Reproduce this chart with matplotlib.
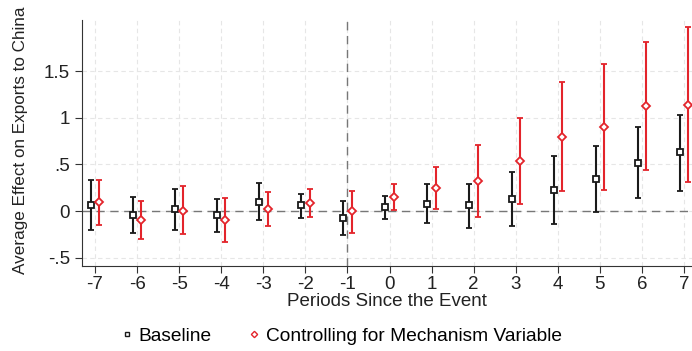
import matplotlib.pyplot as plt
from matplotlib.lines import Line2D
import numpy as np

plt.rcParams['font.family'] = ['Liberation Sans', 'DejaVu Sans']
plt.rcParams['axes.unicode_minus'] = False

# Event-study coefficients and 95% CIs
periods = [-7, -6, -5, -4, -3, -2, -1, 0, 1, 2, 3, 4, 5, 6, 7]

base_coef = [0.07, -0.04, 0.02, -0.04, 0.10, 0.06, -0.07, 0.04, 0.08, 0.06, 0.13, 0.23, 0.34, 0.52, 0.63]
base_lo = [-0.20, -0.23, -0.20, -0.22, -0.10, -0.075, -0.26, -0.09, -0.13, -0.18, -0.16, -0.14, -0.01, 0.14, 0.22]
base_hi = [0.33, 0.15, 0.24, 0.13, 0.30, 0.18, 0.11, 0.16, 0.29, 0.29, 0.42, 0.59, 0.70, 0.90, 1.03]

mech_coef = [0.10, -0.10, 0.00, -0.10, 0.02, 0.09, 0.00, 0.15, 0.25, 0.325, 0.54, 0.80, 0.90, 1.125, 1.14]
mech_lo = [-0.15, -0.30, -0.25, -0.33, -0.16, -0.06, -0.23, 0.01, 0.02, -0.06, 0.08, 0.21, 0.225, 0.44, 0.31]
mech_hi = [0.33, 0.11, 0.27, 0.135, 0.20, 0.24, 0.21, 0.29, 0.475, 0.71, 1.00, 1.39, 1.58, 1.81, 1.97]

ytick_vals = [-0.5, 0, 0.5, 1, 1.5]
ytick_labels = ['-.5', '0', '.5', '1', '1.5']

BLACK = '#1a1a1a'
RED = '#e3242b'

x = np.array(periods)
fig = plt.figure(figsize=(6.92, 3.51), dpi=100)
ax = fig.add_axes([0.1185, 0.242, 0.8815, 0.701])

def draw(xpos, coef, lo, hi, color, marker, ms):
    coef = np.array(coef)
    err = [coef - np.array(lo), np.array(hi) - coef]
    ax.errorbar(xpos, coef, yerr=err, fmt=marker, color=color, ecolor=color,
                elinewidth=1.5, capsize=2.5, capthick=1.5, ms=ms, mfc='white',
                mec=color, mew=1.3, zorder=3)

draw(x - 0.1, base_coef, base_lo, base_hi, BLACK, 's', 5)
draw(x + 0.1, mech_coef, mech_lo, mech_hi, RED, 'D', 4.5)

ax.axhline(0, color='#777777', lw=1, ls=(0, (6, 4)), zorder=2)
ax.axvline(-1, color='#777777', lw=1, ls=(0, (6, 4)), zorder=2)

ax.set_xlim(-7.31, 7.19)
ax.set_ylim(-0.59, 2.05)
ax.set_xticks(periods)
ax.set_yticks(ytick_vals)
ax.set_yticklabels(ytick_labels)
ax.grid(True, color='#e6e6e6', lw=0.8, ls=(0, (4, 3)), zorder=0)
ax.set_axisbelow(True)

for s in ['top', 'right']:
    ax.spines[s].set_visible(False)
ax.spines['left'].set_color('#333333')
ax.spines['bottom'].set_color('#333333')
ax.tick_params(axis='both', labelsize=13.5, length=5, color='#333333', labelcolor='#222222')
ax.tick_params(axis='x', pad=2)

ax.set_xlabel('Periods Since the Event', fontsize=13.5, color='#222222', labelpad=0)
ax.set_ylabel('Average Effect on Exports to China', fontsize=12.3, color='#222222')
ax.yaxis.set_label_coords(-0.089, 0.51)

handles = [
    Line2D([], [], ls='none', marker='s', ms=3.2, mfc='white', mec=BLACK, mew=1.0),
    Line2D([], [], ls='none', marker='D', ms=3.2, mfc='white', mec=RED, mew=1.0),
]
fig.legend(handles, ['Baseline', 'Controlling for Mechanism Variable'],
           loc='center', bbox_to_anchor=(0.494, 0.043), ncol=2, frameon=False,
           fontsize=13.8, handlelength=0.5, handletextpad=0.35, columnspacing=2.0)

fig.savefig('out.png', dpi=100)
